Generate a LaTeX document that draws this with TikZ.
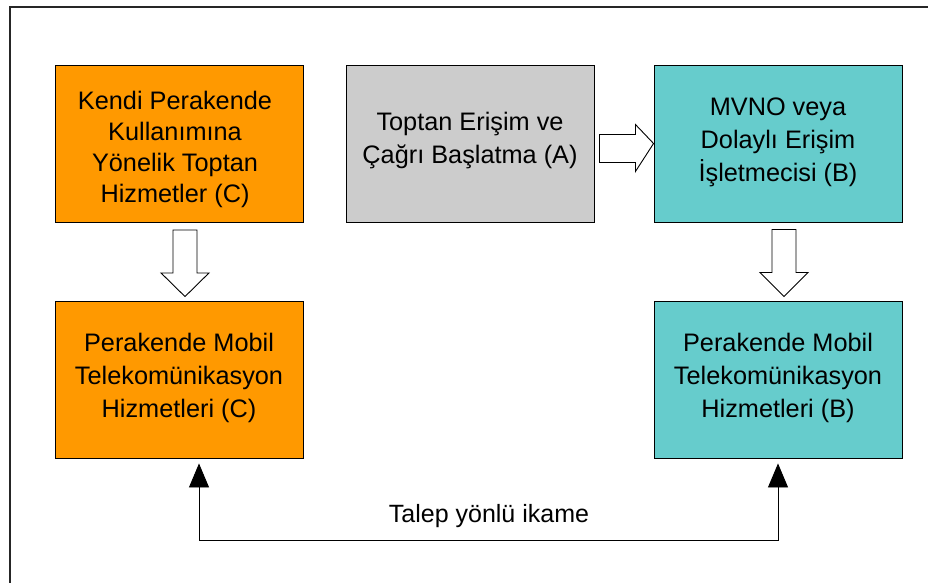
\documentclass[tikz,border=0pt]{standalone}
\usepackage{fontspec}
\setmainfont{Liberation Sans}
\usetikzlibrary{arrows.meta,calc}
\definecolor{orangebox}{HTML}{FF9900}
\definecolor{graybox}{HTML}{CCCCCC}
\definecolor{tealbox}{HTML}{66CCCC}
\begin{document}
\begin{tikzpicture}[x=1pt,y=-1pt,
  box/.style={draw=black, line width=0.9pt, minimum width=248pt, minimum height=157pt,
    inner sep=0pt},
  boxtext/.style={align=center, inner sep=0pt, font=\fontsize{25.3}{33}\selectfont, text=black},
  blockarrow/.style={draw=black, line width=0.9pt, fill=white, line join=miter},
  conn/.style={draw=black, line width=0.9pt, {Triangle[length=24pt,width=20pt]}-{Triangle[length=24pt,width=20pt]}},
  lbl/.style={font=\fontsize{25}{30}\selectfont, text=black}]
\useasboundingbox (0,0) rectangle (928,583);
\clip (0,0) rectangle (928,583);
\fill[white] (0,0) rectangle (928,583);
\draw[line width=1.3pt, draw=black!85] (940,7) -- (10,7) -- (10,590);

\node[box, fill=orangebox] (ctop) at (179,144) {};
\node[box, fill=graybox] (atop) at (470,143.5) {};
\node[box, fill=tealbox] (btop) at (778,143.5) {};
\node[box, fill=orangebox] (cbot) at (179,379.5) {};
\node[box, fill=tealbox] (bbot) at (778,379.5) {};

\node[boxtext, font=\fontsize{25.3}{31}\selectfont] (ctoptext) at ($(ctop.center)+(-4,5)$) {Kendi Perakende\\Kullanımına\\Yönelik Toptan\\Hizmetler (C)};
\node[boxtext] (atoptext) at ($(atop.center)+(0,-3)$) {Toptan Erişim ve\\Çağrı Başlatma (A)};
\node[boxtext] (btoptext) at ($(btop.center)+(0,-1)$) {MVNO veya\\Dolaylı Erişim\\İşletmecisi (B)};
\node[boxtext] (cbottext) at ($(cbot.center)+(0,-2)$) {Perakende Mobil\\Telekomünikasyon\\Hizmetleri (C)};
\node[boxtext] (bbottext) at ($(bbot.center)+(0,-2)$) {Perakende Mobil\\Telekomünikasyon\\Hizmetleri (B)};

% block arrow A -> B
\draw[blockarrow] ($(atop.east)+(5,-9)$) -- ++(36,0) -- ++(0,-10) -- ($(btop.west)$) -- ($(atop.east)+(41,28)$) -- ++(0,-9) -- ++(-36,0) -- cycle;
% block arrow ctop -> cbot
\draw[blockarrow] ($(ctop.south)+(-6,7)$) -- ++(24,0) -- ++(0,43) -- ++(12,0) -- ($(cbot.north)+(6,-4)$) -- ($(ctop.south)+(-18,50)$) -- ++(12,0) -- cycle;
% block arrow btop -> bbot
\draw[blockarrow] ($(btop.south)+(-6,7)$) -- ++(24,0) -- ++(0,43) -- ++(12,0) -- ($(bbot.north)+(6,-4)$) -- ($(btop.south)+(-18,50)$) -- ++(12,0) -- cycle;

% demand-side substitution connector
\coordinate (tl) at ($(cbot.south)+(20,5)$);
\coordinate (tr) at ($(bbot.south)+(0,5)$);
\draw[conn] (tl) -- ++(0,77) -| (tr);
\node[lbl] (sub) at (489,516) {Talep yönlü ikame};
\end{tikzpicture}
\end{document}
